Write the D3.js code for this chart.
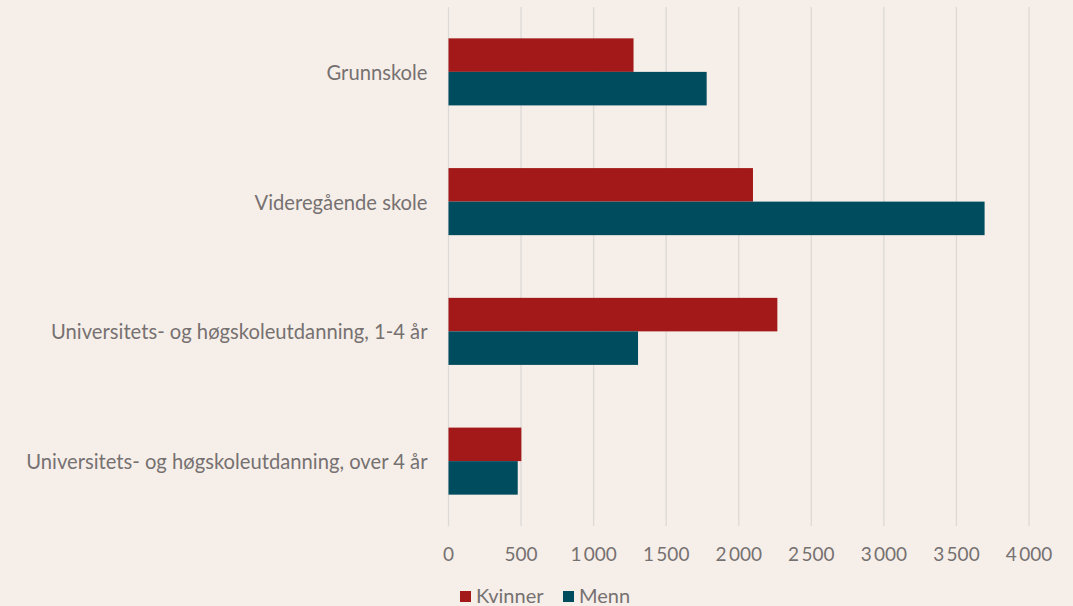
<!DOCTYPE html>
<html>
<head>
<meta charset="utf-8">
<script src="https://cdn.jsdelivr.net/npm/d3@7"></script>
<style>
  body { margin: 0; background: #f6efe9; }
  text { font-family: Lato, sans-serif; fill: #767171; }
</style>
</head>
<body>
<div id="chart"></div>
<script>
// chart data
var categories = ["Grunnskole", "Videregående skole", "Universitets- og høgskoleutdanning, 1-4 år", "Universitets- og høgskoleutdanning, over 4 år"];
var seriesNames = ["Kvinner", "Menn"];
var kvinner = [1275, 2098, 2266, 502];
var menn = [1779, 3694, 1306, 477];
var xTicks = [0, 500, 1000, 1500, 2000, 2500, 3000, 3500, 4000];
var colors = ["#a31919", "#004c5f"];

var svgWidth = 1073, svgHeight = 606;
var margin = { top: 7, right: 44, bottom: 80, left: 448.5 };
var width = svgWidth - margin.left - margin.right;
var height = svgHeight - margin.top - margin.bottom;

var svg = d3.select("#chart").append("svg")
  .attr("width", svgWidth)
  .attr("height", svgHeight);

var chartGroup = svg.append("g")
  .attr("transform", `translate(${margin.left}, ${margin.top})`);

var xScale = d3.scaleLinear().domain([0, 4000]).range([0, 580.5]);
var yScale = d3.scaleBand().domain(categories).range([0, height]).paddingInner(0).paddingOuter(0);
var inner = d3.scaleBand().domain(seriesNames).range([0, yScale.bandwidth()]).paddingInner(0).paddingOuter(0.935);

// gridlines
chartGroup.append("g")
  .selectAll("line")
  .data(xTicks)
  .enter()
  .append("line")
  .attr("x1", d => xScale(d))
  .attr("x2", d => xScale(d))
  .attr("y1", 0)
  .attr("y2", height)
  .attr("stroke", "#dcd9d6")
  .attr("stroke-width", 1.3);

// bars
var rows = categories.map((c, i) => ({ cat: c, values: [kvinner[i], menn[i]] }));
var groups = chartGroup.selectAll(".cat")
  .data(rows)
  .enter()
  .append("g")
  .attr("transform", d => `translate(0, ${yScale(d.cat)})`);

groups.selectAll("rect")
  .data(d => d.values.map((v, j) => ({ name: seriesNames[j], value: v, j: j })))
  .enter()
  .append("rect")
  .attr("x", xScale(0))
  .attr("y", d => inner(d.name))
  .attr("width", d => xScale(d.value) - xScale(0))
  .attr("height", inner.bandwidth())
  .attr("fill", d => colors[d.j]);

// category labels
chartGroup.append("g")
  .selectAll("text")
  .data(categories)
  .enter()
  .append("text")
  .attr("x", -21)
  .attr("y", d => yScale(d) + yScale.bandwidth() / 2)
  .attr("text-anchor", "end")
  .attr("dominant-baseline", "central")
  .attr("font-size", "20.2px")
  .text(d => d);

// x axis labels
var fmt = d => d3.format(",")(d).replace(/,/g, "\u2009");
chartGroup.append("g")
  .selectAll("text")
  .data(xTicks)
  .enter()
  .append("text")
  .attr("x", d => xScale(d))
  .attr("y", height + 35)
  .attr("text-anchor", "middle")
  .attr("font-size", "19px")
  .text(d => fmt(d));

// legend
var legend = svg.append("g").attr("transform", "translate(460, 591)");
var legendX = [0, 103];
seriesNames.forEach(function (name, i) {
  legend.append("rect")
    .attr("x", legendX[i])
    .attr("y", 0)
    .attr("width", 11)
    .attr("height", 11)
    .attr("fill", colors[i]);
  legend.append("text")
    .attr("x", legendX[i] + 16)
    .attr("y", 12)
    .attr("font-size", "20px")
    .text(name);
});
</script>
</body>
</html>
